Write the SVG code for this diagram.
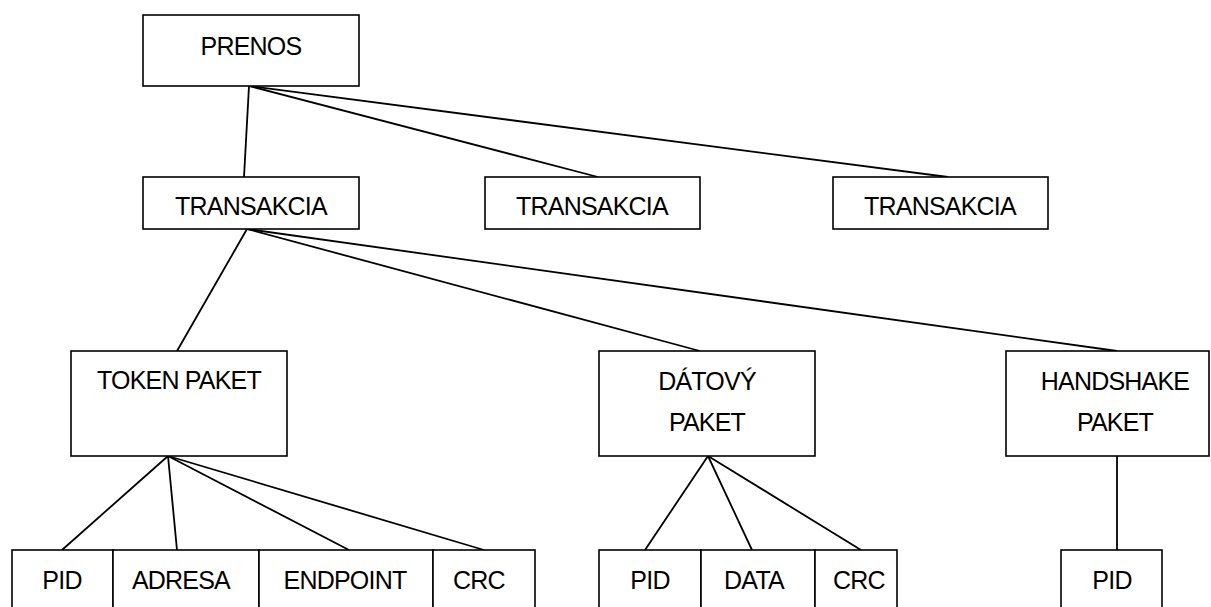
<svg xmlns="http://www.w3.org/2000/svg" width="1211" height="607" viewBox="0 0 1211 607">
<style>
rect{fill:#fff;stroke:#000;stroke-width:1.6}
line{stroke:#000;stroke-width:1.8}
text{font-family:"Liberation Sans",Arial,sans-serif;font-size:25px;fill:#000;text-anchor:middle;letter-spacing:-0.8px}
</style>
<rect x="0" y="0" width="1211" height="607" style="stroke:none"/>
<g id="connectors">
<line x1="249" y1="86" x2="244" y2="177"/>
<line x1="249" y1="86" x2="598" y2="177"/>
<line x1="249" y1="86" x2="948" y2="177"/>
<line x1="247" y1="229" x2="177" y2="351"/>
<line x1="247" y1="229" x2="700" y2="351"/>
<line x1="247" y1="229" x2="1117" y2="351"/>
<line x1="168" y1="456" x2="62" y2="550"/>
<line x1="168" y1="456" x2="177" y2="550"/>
<line x1="168" y1="456" x2="349" y2="550"/>
<line x1="168" y1="456" x2="484" y2="550"/>
<line x1="708" y1="456" x2="645" y2="550"/>
<line x1="708" y1="456" x2="752" y2="550"/>
<line x1="708" y1="456" x2="861" y2="550"/>
<line x1="1117" y1="456" x2="1117" y2="550"/>
</g>
<g id="prenos"><rect x="143" y="15" width="216" height="71"/><text x="251" y="55">PRENOS</text></g>
<g id="transakcia1"><rect x="143" y="177" width="216" height="52"/><text x="251" y="215">TRANSAKCIA</text></g>
<g id="transakcia2"><rect x="485" y="177" width="215" height="52"/><text x="592" y="215">TRANSAKCIA</text></g>
<g id="transakcia3"><rect x="833" y="177" width="215" height="52"/><text x="940" y="215">TRANSAKCIA</text></g>
<g id="token"><rect x="71" y="351" width="216" height="105"/><text x="179" y="389">TOKEN PAKET</text></g>
<g id="datovy"><rect x="599" y="351" width="216" height="105"/><text x="707" y="390">DÁTOVÝ</text><text x="707" y="431">PAKET</text></g>
<g id="handshake"><rect x="1006" y="351" width="203" height="105"/><text x="1115" y="390">HANDSHAKE</text><text x="1115" y="431">PAKET</text></g>
<g id="token-pid"><rect x="12" y="550" width="101" height="70"/><text x="62" y="589">PID</text></g>
<g id="token-adresa"><rect x="113" y="550" width="146" height="70"/><text x="181" y="589">ADRESA</text></g>
<g id="token-endpoint"><rect x="259" y="550" width="174" height="70"/><text x="345" y="589">ENDPOINT</text></g>
<g id="token-crc"><rect x="433" y="550" width="102" height="70"/><text x="479" y="589">CRC</text></g>
<g id="data-pid"><rect x="599" y="550" width="102" height="70"/><text x="650" y="589">PID</text></g>
<g id="data-data"><rect x="701" y="550" width="114" height="70"/><text x="754" y="589">DATA</text></g>
<g id="data-crc"><rect x="815" y="550" width="82" height="70"/><text x="859" y="589">CRC</text></g>
<g id="handshake-pid"><rect x="1061" y="550" width="101" height="70"/><text x="1112" y="589">PID</text></g>
</svg>
